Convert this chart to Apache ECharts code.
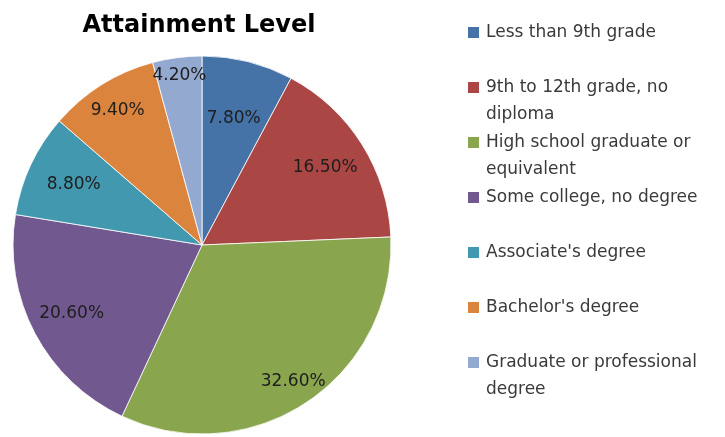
<!DOCTYPE html>
<html>
<head>
<meta charset="utf-8">
<script src="https://cdn.jsdelivr.net/npm/echarts@6/dist/echarts.min.js"></script>
<style>
  html, body { margin: 0; padding: 0; background: #fff; }
  #chart { width: 725px; height: 437px; }
</style>
</head>
<body>
<div id="chart"></div>
<script>
// Educational attainment shares (percent of population)
const categories = [
  'Less than 9th grade',
  '9th to 12th grade, no diploma',
  'High school graduate or equivalent',
  'Some college, no degree',
  "Associate's degree",
  "Bachelor's degree",
  'Graduate or professional degree'
];
const shares = [7.8, 16.5, 32.6, 20.6, 8.8, 9.4, 4.2];
const colors = ['#4572A7', '#AA4643', '#89A54E', '#71588F', '#4198AF', '#DB843D', '#93A9CF'];

// How legend entries wrap onto two lines
const legendLines = [
  ['Less than 9th grade', ''],
  ['9th to 12th grade, no', 'diploma'],
  ['High school graduate or', 'equivalent'],
  ['Some college, no degree', ''],
  ["Associate's degree", ''],
  ["Bachelor's degree", ''],
  ['Graduate or professional', 'degree']
];

// Label distance from the centre, as a fraction of the radius
const labelRadiusRatio = [0.69, 0.77, 0.87, 0.78, 0.75, 0.84, 0.905];

const CX = 202, CY = 245, R = 189;
const FONT = '"DejaVu Sans", "Open Sans", sans-serif';

const rich = {
  g: { width: 7, height: 11, lineHeight: 27 },
  pad: { width: 18, height: 11, lineHeight: 27 },
  t: { fontSize: 17, color: '#3a3a3a', fontFamily: FONT, lineHeight: 27 }
};
colors.forEach((c, i) => {
  rich['s' + i] = { width: 11, height: 11, backgroundColor: c, lineHeight: 27 };
});

const chart = echarts.init(document.getElementById('chart'), null, { renderer: 'canvas' });

chart.setOption({
  animation: false,
  color: colors,
  title: {
    text: 'Attainment Level',
    left: 194,
    textAlign: 'center',
    top: 9,
    textStyle: { fontFamily: FONT, fontWeight: 'bold', fontSize: 24, color: '#000' }
  },
  legend: {
    orient: 'vertical',
    left: 457,
    top: 14,
    itemGap: 1,
    itemWidth: 0,
    itemHeight: 0,
    icon: 'rect',
    selectedMode: false,
    data: categories,
    formatter: function (name) {
      const i = categories.indexOf(name);
      const lines = legendLines[i];
      return '{s' + i + '|}{g|}{t|' + lines[0] + '}\n{pad|}{t|' + (lines[1] || ' ') + '}';
    },
    textStyle: { rich: rich, lineHeight: 27 }
  },
  series: [{
    type: 'pie',
    center: [CX, CY],
    radius: R,
    startAngle: 90,
    clockwise: true,
    avoidLabelOverlap: false,
    itemStyle: { borderColor: '#ffffff', borderWidth: 0.8 },
    label: {
      show: true,
      position: 'inside',
      fontFamily: FONT,
      fontSize: 17,
      color: '#1e1e1e',
      formatter: function (p) { return p.value.toFixed(2) + '%'; }
    },
    labelLine: { show: false },
    labelLayout: function (params) {
      const rect = params.labelRect;
      const lx = rect.x + rect.width / 2;
      const ly = rect.y + rect.height / 2;
      const vx = lx - CX, vy = ly - CY;
      const d = Math.sqrt(vx * vx + vy * vy) || 1;
      const k = labelRadiusRatio[params.dataIndex] * R / d;
      return { dx: vx * (k - 1), dy: vy * (k - 1) };
    },
    emphasis: { disabled: true },
    data: categories.map((name, i) => ({ name: name, value: shares[i] }))
  }]
});
</script>
</body>
</html>
